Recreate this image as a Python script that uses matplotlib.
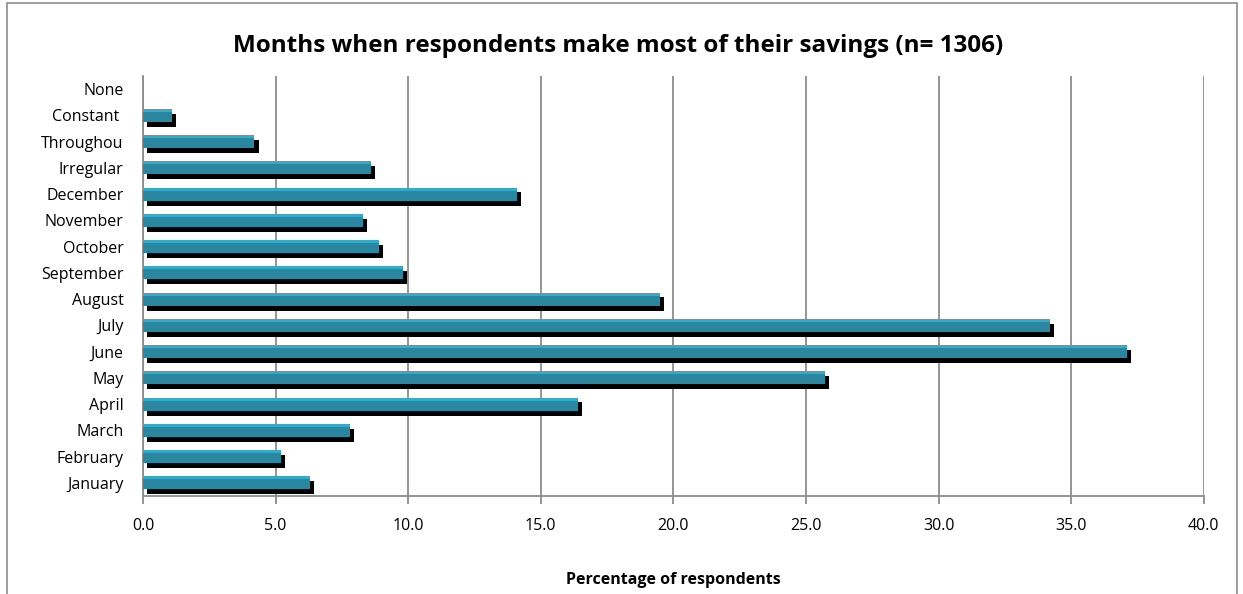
import matplotlib.pyplot as plt
import matplotlib.patheffects as pe
from matplotlib.patches import Rectangle
import numpy as np

# data (bottom to top)
categories = ['January', 'February', 'March', 'April', 'May', 'June', 'July',
              'August', 'September', 'October', 'November', 'December',
              'Irregular', 'Throughou', 'Constant ', 'None']
values = [6.3, 5.2, 7.8, 16.4, 25.7, 37.1, 34.2,
          19.5, 9.8, 8.9, 8.3, 14.1,
          8.6, 4.2, 1.1, 0.0]
xticks = [0, 5, 10, 15, 20, 25, 30, 35, 40]

plt.rcParams['font.family'] = ['Open Sans', 'DejaVu Sans']

fig = plt.figure(figsize=(12.43, 5.94), dpi=100)
ax = fig.add_axes([0.115, 0.165, 0.8535, 0.707])

# outer chart frame
fig.patches.append(Rectangle((0.006, -0.01), 0.989, 1.005, transform=fig.transFigure,
                             fill=False, edgecolor='#8c8c8c', linewidth=1.2))

y = np.arange(len(categories))
bar_h = 0.5

# main bars with a black drop shadow
ax.barh(y, values, height=bar_h, color='#2a879f', zorder=3,
        path_effects=[pe.SimplePatchShadow(offset=(3, -3.5), shadow_rgbFace='black', alpha=1.0),
                      pe.Normal()])
# lighter strip on top of each bar
ax.barh(y + bar_h / 2 - 0.06, values, height=0.12, color='#35abcc', zorder=4)

ax.set_xlim(0, 40)
ax.set_ylim(-0.5, len(categories) - 0.5)
ax.set_xticks(xticks)
ax.set_xticklabels([f'{v:.1f}' for v in xticks])
ax.set_yticks(y)
ax.set_yticklabels(categories)

ax.grid(axis='x', color='#8c8c8c', linewidth=1.3, zorder=0)
ax.set_axisbelow(True)
for s in ['top', 'right']:
    ax.spines[s].set_visible(False)
for s in ['left', 'bottom']:
    ax.spines[s].set_color('#8c8c8c')
    ax.spines[s].set_linewidth(1.3)

ax.tick_params(axis='x', length=6, color='#8c8c8c', width=1.3, labelsize=11.5, pad=10)
ax.tick_params(axis='y', length=0, labelsize=11.5, pad=14)

ax.set_xlabel('Percentage of respondents', fontsize=11.5, fontweight='bold', labelpad=27)
fig.text(0.497, 0.923, 'Months when respondents make most of their savings (n= 1306)',
         ha='center', va='center', fontsize=17.5, fontweight='bold')

fig.savefig('out.png', dpi=100)
